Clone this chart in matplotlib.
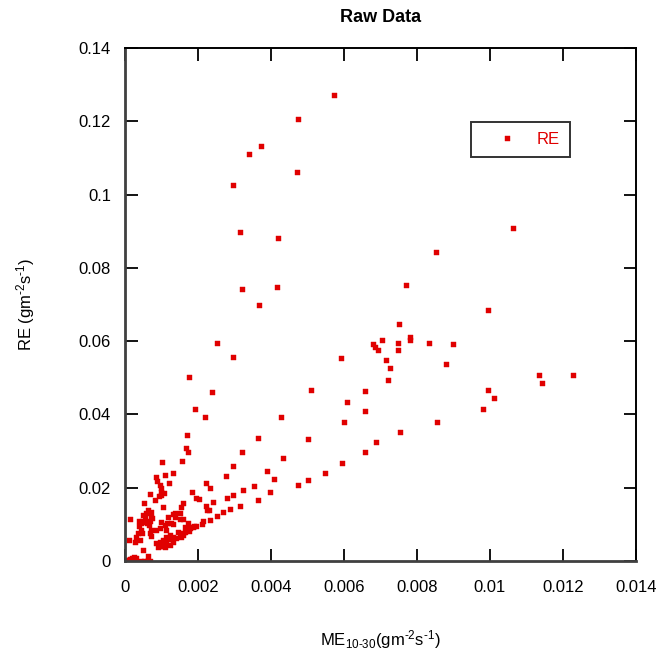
import matplotlib
matplotlib.use("Agg")
import matplotlib.pyplot as plt

plt.rcParams['font.family'] = ['Liberation Sans', 'DejaVu Sans']
plt.rcParams['mathtext.fontset'] = 'custom'
plt.rcParams['mathtext.rm'] = 'Liberation Sans'
plt.rcParams['mathtext.it'] = 'Liberation Sans:italic'
plt.rcParams['mathtext.bf'] = 'Liberation Sans:bold'

# ME (x) and RE (y) values
me = [
    0.00572, 0.00475, 0.00373, 0.00339, 0.00470, 0.00296, 0.00315, 0.00420, 0.00320, 0.00416,
    0.00366, 0.00253, 0.00296, 0.00175, 0.00238, 0.00510, 0.00592, 0.00658, 0.00680, 0.00685,
    0.00693, 0.00750, 0.00704, 0.00747, 0.00782, 0.00782, 0.00832, 0.00899, 0.00747, 0.00715,
    0.00727, 0.00879, 0.00720, 0.00607, 0.00658, 0.00427, 0.00599, 0.00856, 0.00754, 0.00502,
    0.00688, 0.00432, 0.00658, 0.00595, 0.00549, 0.00502, 0.00475,
    0.01062, 0.00851, 0.00995, 0.00770, 0.01135, 0.01143, 0.01228, 0.00995, 0.01011, 0.00980,
    0.00192, 0.00218, 0.00365, 0.00320, 0.00296, 0.00389, 0.00276, 0.00408, 0.00222, 0.00234,
    0.00323, 0.00354, 0.00397, 0.00203, 0.00296, 0.00280, 0.00365, 0.00242, 0.00222, 0.00226,
    0.00230, 0.00315, 0.00288, 0.00268, 0.00253, 0.00234, 0.00215, 0.00210, 0.00195,
    0.00171, 0.00167, 0.00172, 0.00156, 0.00101, 0.00132, 0.00110, 0.00085, 0.00087, 0.00184,
    0.00121,
    0.00095, 0.00099, 0.00098, 0.00107, 0.00099, 0.00092, 0.00068, 0.00195, 0.00081, 0.00051,
    0.00159, 0.00154, 0.00150, 0.00104, 0.00063, 0.00072, 0.00058, 0.00070, 0.00054, 0.00068,
    0.00132, 0.00136, 0.00099, 0.00116, 0.00125, 0.00109, 0.00015, 0.00043, 0.00038, 0.00045,
    0.00036, 0.00047, 0.00031, 0.00040, 0.00028, 0.00068, 0.00072, 0.00086, 0.00095, 0.00113,
    0.00050, 0.00074, 0.00038, 0.00046, 0.00052, 0.00059, 0.00065, 0.00071, 0.00012, 0.00050,
    0.00062,
    0.00145, 0.00159, 0.00171, 0.00177, 0.00186, 0.00154, 0.00141, 0.00132, 0.00122, 0.00113,
    0.00104, 0.00095, 0.00086, 0.00099, 0.00090, 0.00109, 0.00122, 0.00132, 0.00150, 0.00165,
    0.00118, 0.00100, 0.00128, 0.00160, 0.00175, 0.00095, 0.00104, 0.00112,
    0.00151, 0.00160, 0.00165, 0.00173, 0.00178, 0.00189, 0.00137, 0.00119, 0.00132,
    0.00002, 0.00005, 0.00010, 0.00015, 0.00020, 0.00025, 0.00030, 0.00018, 0.00008, 0.00028,
    0.00045, 0.00052, 0.00060, 0.00068, 0.00064,
]
re = [
    0.1273, 0.1207, 0.1133, 0.1111, 0.1061, 0.1025, 0.0898, 0.0881, 0.0742, 0.0747,
    0.0700, 0.0596, 0.0557, 0.0503, 0.0460, 0.0467, 0.0553, 0.0464, 0.0591, 0.0585,
    0.0576, 0.0646, 0.0603, 0.0596, 0.0610, 0.0603, 0.0596, 0.0591, 0.0576, 0.0549,
    0.0526, 0.0538, 0.0495, 0.0433, 0.0410, 0.0394, 0.0378, 0.0378, 0.0351, 0.0332,
    0.0325, 0.0282, 0.0297, 0.0267, 0.0239, 0.0220, 0.0208,
    0.0909, 0.0843, 0.0685, 0.0753, 0.0507, 0.0487, 0.0507, 0.0468, 0.0444, 0.0414,
    0.0414, 0.0394, 0.0337, 0.0297, 0.0259, 0.0246, 0.0231, 0.0224, 0.0213, 0.0200,
    0.0193, 0.0205, 0.0188, 0.0169, 0.0181, 0.0173, 0.0166, 0.0162, 0.0150, 0.0139,
    0.0138, 0.0150, 0.0143, 0.0135, 0.0123, 0.0112, 0.0108, 0.0100, 0.0096,
    0.0344, 0.0309, 0.0298, 0.0274, 0.0271, 0.0239, 0.0235, 0.0230, 0.0219, 0.0188,
    0.0212,
    0.0207, 0.0198, 0.0189, 0.0186, 0.0180, 0.0177, 0.0182, 0.0171, 0.0166, 0.0158,
    0.0157, 0.0147, 0.0130, 0.0148, 0.0139, 0.0135, 0.0130, 0.0121, 0.0118, 0.0110,
    0.0128, 0.0121, 0.0107, 0.0103, 0.0105, 0.0098, 0.0115, 0.0105, 0.0096, 0.0085,
    0.0076, 0.0076, 0.0066, 0.0057, 0.0053, 0.0076, 0.0085, 0.0085, 0.0089, 0.0085,
    0.0126, 0.0118, 0.0110, 0.0108, 0.0106, 0.0103, 0.0099, 0.0068, 0.0057, 0.0030,
    0.0014,
    0.0080, 0.0076, 0.0085, 0.0089, 0.0094, 0.0066, 0.0062, 0.0066, 0.0071, 0.0066,
    0.0057, 0.0053, 0.0050, 0.0044, 0.0039, 0.0037, 0.0044, 0.0053, 0.0072, 0.0080,
    0.0060, 0.0048, 0.0060, 0.0070, 0.0083, 0.0042, 0.0040, 0.0052,
    0.0114, 0.0114, 0.0094, 0.0103, 0.0094, 0.0095, 0.0132, 0.0119, 0.0100,
    0.0000, 0.0002, 0.0004, 0.0006, 0.0008, 0.0010, 0.0007, 0.0002, 0.0001, 0.0003,
    0.0000, 0.0000, 0.0000, 0.0000, 0.0001,
]

x_ticks = [0, 0.002, 0.004, 0.006, 0.008, 0.01, 0.012, 0.014]
x_tick_labels = ['0', '0.002', '0.004', '0.006', '0.008', '0.01', '0.012', '0.014']
y_ticks = [0, 0.02, 0.04, 0.06, 0.08, 0.1, 0.12, 0.14]
y_tick_labels = ['0', '0.02', '0.04', '0.06', '0.08', '0.1', '0.12', '0.14']

red = '#e00000'
fs = 12

fig = plt.figure(figsize=(6.63, 6.63), dpi=100)
ax = fig.add_axes([125/663, 1-561/663, 511/663, 513/663])

ax.plot(me, re, linestyle='none', marker='s', markersize=3.6,
        color=red, markeredgewidth=0.3, label='RE')

ax.set_xlim(0, 0.014)
ax.set_ylim(0, 0.14)
ax.set_xticks(x_ticks)
ax.set_xticklabels(x_tick_labels)
ax.set_yticks(y_ticks)
ax.set_yticklabels(y_tick_labels)

ax.tick_params(direction='in', length=9, width=1.3, top=True, right=True,
               labelsize=fs, colors='black')
ax.tick_params(axis='x', pad=13.5)
ax.tick_params(axis='y', pad=10)

for side in ['left', 'bottom']:
    ax.spines[side].set_linewidth(2.0)
    ax.spines[side].set_color('#404040')
for side in ['top', 'right']:
    ax.spines[side].set_linewidth(1.4)
    ax.spines[side].set_color('black')

ax.set_title('Raw Data', fontsize=13, fontweight='bold', pad=19)
ax.set_xlabel(r'ME$_{\mathrm{10\text{-}30}}$(gm$^{\text{-}2}$s$^{\text{-}1}$)',
              fontsize=fs, labelpad=24)
ax.set_ylabel(r'RE (gm$^{\text{-}2}$s$^{\text{-}1}$)', fontsize=fs, labelpad=30)

leg = ax.legend(loc='upper left', bbox_to_anchor=((470.7-125)/511, 1-(122.3-48)/513),
                frameon=True, fancybox=False, fontsize=fs, handlelength=3.1,
                handletextpad=0.25, borderpad=0.6, borderaxespad=0,
                markerscale=1.0, labelcolor=red)
leg.get_frame().set_edgecolor('black')
leg.get_frame().set_linewidth(1.4)

fig.savefig('out.png', dpi=100)
